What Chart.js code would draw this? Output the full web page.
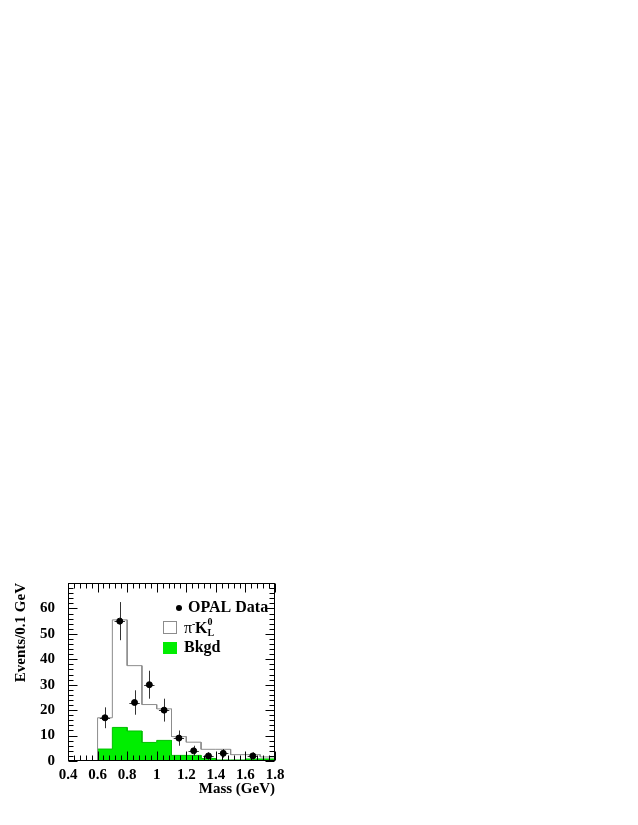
<!DOCTYPE html>
<html>
<head>
<meta charset="utf-8">
<script src="https://cdn.jsdelivr.net/npm/chart.js@4.4.1/dist/chart.umd.min.js"></script>
<style>
body{margin:0;background:#fff}
</style>
</head>
<body>
<canvas id="c" width="638" height="825"></canvas>
<script>
// histogram bins (GeV)
var binEdges = [0.6,0.7,0.8,0.9,1.0,1.1,1.2,1.3,1.4,1.5,1.6,1.7,1.8]
var mcCounts = [17,55.5,37.5,22.2,20.5,9.6,7.4,4.6,4.6,2.5,2.5,1.6]   // pi- K_L0 MC
var bkgCounts = [4.7,13.2,11.8,7.3,8.1,2.2,2.2,1.0,0.4,0.4,0.8,0.8] // Bkgd
// OPAL data points
var dataMass = [0.65,0.75,0.85,0.95,1.05,1.15,1.25,1.35,1.45,1.65]
var dataEvents = [17,55,23,30,20,9,4,2,3,2]
var dataErr = [4.1,7.5,4.8,5.5,4.5,3.0,2.0,1.4,1.7,1.4]
var xTickLabels = ['0.4','0.6','0.8','1','1.2','1.4','1.6','1.8']
var yTickLabels = ['0','10','20','30','40','50','60','']

var serif = "'Liberation Serif','Times New Roman',serif"

function stepPoints(counts){
    var pts = [{x:binEdges[0],y:0}]
    for(var i=0;i<counts.length;i++){
        pts.push({x:binEdges[i],y:counts[i]})
        pts.push({x:binEdges[i+1],y:counts[i]})
    }
    pts.push({x:binEdges[binEdges.length-1],y:0})
    return pts
}

var errorBars = {
    id:'errorBars',
    beforeDatasetDraw(chart,args){
        if(args.index!==0) return
        var xs = chart.scales.x, ys = chart.scales.y, ctx = chart.ctx
        ctx.save()
        ctx.strokeStyle = '#333'
        ctx.lineWidth = 1
        for(var i=0;i<dataMass.length;i++){
            var px = Math.round(xs.getPixelForValue(dataMass[i]))+0.5
            var py = Math.round(ys.getPixelForValue(dataEvents[i]))+0.5
            ctx.beginPath()
            ctx.moveTo(px,ys.getPixelForValue(dataEvents[i]-dataErr[i]))
            ctx.lineTo(px,ys.getPixelForValue(dataEvents[i]+dataErr[i]))
            ctx.moveTo(xs.getPixelForValue(dataMass[i]-0.035),py)
            ctx.lineTo(xs.getPixelForValue(dataMass[i]+0.035),py)
            ctx.stroke()
        }
        ctx.restore()
    }
}

// frame + inward ticks on all four sides
var frame = {
    id:'frame',
    afterDatasetsDraw(chart){
        var xs = chart.scales.x, ys = chart.scales.y, ctx = chart.ctx
        var a = chart.chartArea
        var L = Math.round(a.left)+0.5, R = Math.round(a.right)-0.5
        var T = Math.round(a.top)+0.5, B = Math.round(a.bottom)-0.5
        ctx.save()
        ctx.strokeStyle = '#000'
        ctx.lineWidth = 1
        ctx.strokeRect(L,T,R-L,B-T)
        ctx.beginPath()
        for(var k=0;k<=35;k++){
            var v = 0.4+k*0.04
            var len = (k%5==0) ? 9 : 5
            var px = Math.round(xs.getPixelForValue(v))+0.5
            ctx.moveTo(px,B); ctx.lineTo(px,B-len)
            ctx.moveTo(px,T); ctx.lineTo(px,T+len)
        }
        for(var j=0;j<=35;j++){
            var yv = j*2
            var ylen = (j%5==0) ? 9 : 5
            var py = Math.round(ys.getPixelForValue(yv))+0.5
            ctx.moveTo(L,py); ctx.lineTo(L+ylen,py)
            ctx.moveTo(R,py); ctx.lineTo(R-ylen,py)
        }
        ctx.stroke()
        ctx.restore()
    }
}

var legendBox = {
    id:'legendBox',
    afterDraw(chart){
        var ctx = chart.ctx
        ctx.save()
        ctx.textBaseline = 'middle'
        ctx.fillStyle = '#000'
        // OPAL Data
        ctx.beginPath(); ctx.arc(179,608,3,0,Math.PI*2); ctx.fill()
        ctx.font = 'bold 16px '+serif
        ctx.fillText('OPAL Data',188,608)
        // pi- K_L0
        ctx.strokeStyle = '#8c8c8c'
        ctx.strokeRect(163.5,621.5,13,12)
        ctx.font = '16px '+serif
        ctx.fillText('\u03c0',184,629)
        var w = ctx.measureText('\u03c0').width
        ctx.font = 'bold 10px '+serif
        ctx.fillText('-',184+w,624)
        ctx.font = 'bold 16px '+serif
        ctx.fillText('K',184+w+3,629)
        var kw = ctx.measureText('K').width
        ctx.font = 'bold 10px '+serif
        ctx.fillText('0',184+w+3+kw,622)
        ctx.fillText('L',184+w+3+kw,633)
        // Bkgd
        ctx.fillStyle = '#00ee00'
        ctx.fillRect(163,642,14,12)
        ctx.fillStyle = '#000'
        ctx.font = 'bold 16px '+serif
        ctx.fillText('Bkgd',184,648)
        ctx.restore()
    }
}

var chart = new Chart(document.getElementById('c').getContext('2d'),{
    type:'scatter',
    plugins:[errorBars,frame,legendBox],
    data:{
        datasets:[{
            label:'OPAL Data',
            data:dataMass.map((m,i)=>({x:m,y:dataEvents[i]})),
            backgroundColor:'#000',
            borderColor:'#000',
            pointRadius:3,
            showLine:false
        },
        {
            label:'pi K',
            type:'line',
            data:stepPoints(mcCounts),
            borderColor:'#8c8c8c',
            borderWidth:1,
            pointRadius:0,
            fill:false,
            tension:0
        },
        {
            label:'Bkgd',
            type:'line',
            data:stepPoints(bkgCounts),
            borderColor:'#00c000',
            backgroundColor:'#00ee00',
            borderWidth:1,
            pointRadius:0,
            fill:'origin',
            tension:0
        }]
    },
    options:{
        responsive:false,
        animation:false,
        devicePixelRatio:1,
        layout:{padding:{left:0,top:583,right:363,bottom:0}},
        plugins:{legend:{display:false},tooltip:{enabled:false}},
        scales:{
            x:{
                type:'linear',
                min:0.4,max:1.8,
                grid:{display:false,drawTicks:false},
                border:{display:false},
                ticks:{
                    stepSize:0.2,
                    autoSkip:false,
                    maxRotation:0,
                    padding:5,
                    color:'#000',
                    font:{family:serif,size:15,weight:'bold'},
                    callback:(v,i)=>xTickLabels[i]
                },
                title:{
                    display:true,
                    text:'Mass (GeV)',
                    align:'end',
                    color:'#000',
                    font:{family:serif,size:15,weight:'bold'},
                    padding:{top:0,bottom:27}
                },
                afterFit:(s)=>{ s.height = 64 }
            },
            y:{
                min:0,max:70,
                grid:{display:false,drawTicks:false},
                border:{display:false},
                ticks:{
                    stepSize:10,
                    autoSkip:false,
                    padding:13,
                    color:'#000',
                    font:{family:serif,size:15,weight:'bold'},
                    callback:(v,i)=>yTickLabels[i]
                },
                title:{
                    display:true,
                    text:'Events/0.1 GeV',
                    align:'end',
                    color:'#000',
                    font:{family:serif,size:15,weight:'bold'},
                    padding:{top:12,bottom:0}
                },
                afterFit:(s)=>{ s.width = 68 }
            }
        }
    }
})
</script>
</body>
</html>
